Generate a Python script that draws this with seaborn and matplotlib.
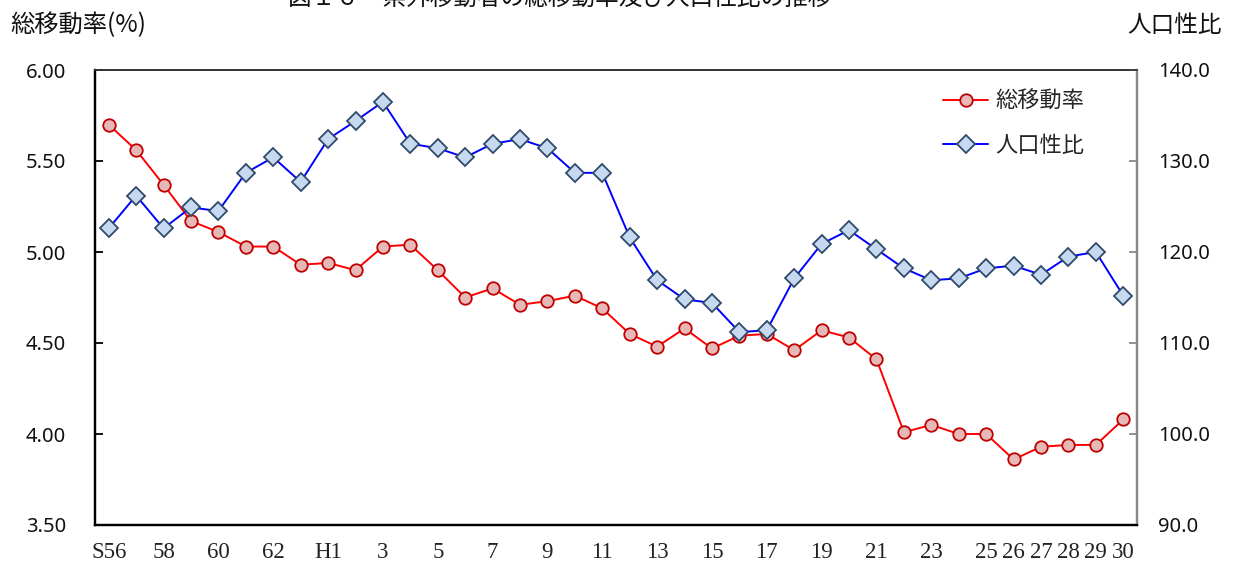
import matplotlib
matplotlib.use("Agg")
import matplotlib.pyplot as plt
import seaborn as sns
import pandas as pd
import numpy as np

# ---- data ----
years = ["S56", "57", "58", "59", "60", "61", "62", "63", "H1", "2", "3", "4", "5", "6", "7", "8",
         "9", "10", "11", "12", "13", "14", "15", "16", "17", "18", "19", "20", "21", "22", "23",
         "24", "25", "26", "27", "28", "29", "30"]
tick_labels = ["S56", "", "58", "", "60", "", "62", "", "H1", "", "3", "", "5", "", "7", "",
               "9", "", "11", "", "13", "", "15", "", "17", "", "19", "", "21", "", "23",
               "", "25", "26", "27", "28", "29", "30"]
move_rate = [5.70, 5.56, 5.37, 5.17, 5.11, 5.03, 5.03, 4.93, 4.94, 4.90, 5.03, 5.04, 4.90, 4.75,
             4.80, 4.71, 4.73, 4.76, 4.69, 4.55, 4.48, 4.58, 4.47, 4.54, 4.55, 4.46, 4.57, 4.53,
             4.41, 4.01, 4.05, 4.00, 4.00, 3.86, 3.93, 3.94, 3.94, 4.08]
sex_ratio = [122.6, 126.2, 122.6, 124.9, 124.5, 128.7, 130.4, 127.7, 132.4, 134.4, 136.5, 131.9,
             131.4, 130.4, 131.9, 132.4, 131.4, 128.7, 128.7, 121.6, 116.9, 114.8, 114.4, 111.2,
             111.4, 117.1, 120.9, 122.4, 120.3, 118.2, 116.9, 117.1, 118.2, 118.5, 117.5, 119.5,
             120.0, 115.2]
label_rate = "総移動率"
label_ratio = "人口性比"
title = "図１６　県外移動者の総移動率及び人口性比の推移"

df = pd.DataFrame({"idx": np.arange(len(years)), "rate": move_rate, "ratio": sex_ratio})

sns.set_style("white")
plt.rcParams['font.family'] = ['Noto Sans CJK JP', 'DejaVu Sans']

fig = plt.figure(figsize=(12.33, 5.63), dpi=100)
ax = fig.add_axes([95/1233, 1-525/563, (1137-95)/1233, (525-70)/563])
ax2 = ax.twinx()

sns.lineplot(data=df, x="idx", y="rate", ax=ax, color="#FF0000", linewidth=1.4,
             marker="o", markersize=9, markerfacecolor="#E6B9B8",
             markeredgecolor="#C00000", markeredgewidth=1.3, label=label_rate, legend=False)
sns.lineplot(data=df, x="idx", y="ratio", ax=ax2, color="#0000FF", linewidth=1.4,
             marker="D", markersize=9.5, markerfacecolor="#C6D9F1",
             markeredgecolor="#2F4A6A", markeredgewidth=1.3, label=label_ratio, legend=False)

ax.set_xlim(-0.5, len(years) - 0.5)
ax.set_ylim(3.5, 6.0)
ax2.set_ylim(90, 140)
ax.set_yticks(np.arange(3.5, 6.01, 0.5))
ax2.set_yticks(np.arange(90, 140.1, 10))
ax.set_yticklabels([f"{v:.2f}" for v in np.arange(3.5, 6.01, 0.5)], fontsize=14.5, family=['Noto Sans', 'DejaVu Sans'])
ax2.set_yticklabels([f"{v:.1f}" for v in np.arange(90, 140.1, 10)], fontsize=14.5, family=['Noto Sans', 'DejaVu Sans'])

ax.set_xticks(np.arange(len(years)))
ax.set_xticklabels(tick_labels, fontsize=16.5, family=['Liberation Serif', 'DejaVu Serif'])
ax.set_xticks(np.arange(-0.5, len(years), 1.0), minor=True)
ax.tick_params(axis="x", which="major", length=0, pad=12, colors="#222222")
ax.tick_params(axis="x", which="minor", direction="in", length=6, width=1.3, color="black")
ax.tick_params(axis="y", direction="in", length=6, width=1.3, color="black", pad=21, labelcolor="#111111")
ax2.tick_params(axis="y", direction="in", length=6, width=1.3, color="#888888", pad=15, labelcolor="#111111")

ax.set_xlabel("")
ax.set_ylabel("")
ax2.set_ylabel("")

for a in (ax, ax2):
    a.spines["left"].set_color("black")
    a.spines["left"].set_linewidth(1.6)
    a.spines["bottom"].set_color("black")
    a.spines["bottom"].set_linewidth(1.6)
    a.spines["top"].set_color("#333333")
    a.spines["top"].set_linewidth(1.2)
    a.spines["right"].set_color("#888888")
    a.spines["right"].set_linewidth(1.6)

h1, l1 = ax.get_legend_handles_labels()
h2, l2 = ax2.get_legend_handles_labels()
leg = ax2.legend(h1 + h2, l1 + l2, loc="upper left", bbox_to_anchor=(0.795, 1.0),
                 frameon=False, fontsize=16, handlelength=2.0, labelspacing=0.95,
                 handletextpad=0.35)

fig.text(10/1233, 1-25/563, "総移動率(%)", fontsize=17.5, va="center", ha="left", color="#111111")
fig.text(1222/1233, 1-25/563, "人口性比", fontsize=17, va="center", ha="right", color="#111111")
fig.text(560/1233, 1+2/563, title, fontsize=17, va="center", ha="center", color="#111111")

fig.savefig("out.png", dpi=100)
